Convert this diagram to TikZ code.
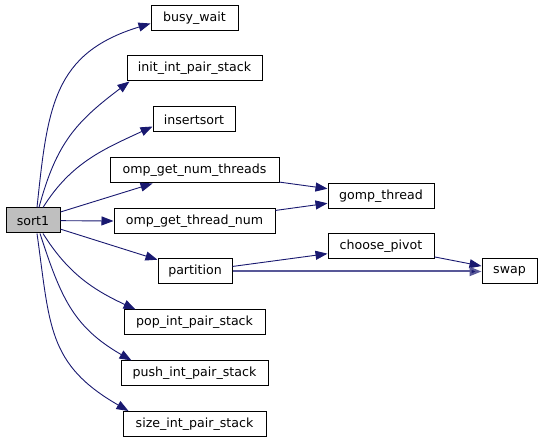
\documentclass[tikz,border=0pt]{standalone}
\usepackage{fontspec}
\setmainfont{DejaVu Sans}
\usetikzlibrary{arrows.meta}
\definecolor{cE}{RGB}{25,25,112}
\definecolor{cF}{RGB}{88,88,152}
\definecolor{cG}{RGB}{191,191,191}

\begin{document}
\begin{tikzpicture}[x=1pt, y=-1pt,
  fn/.style={draw=black, line width=1pt, minimum height=25pt, inner sep=0pt,
    font=\fontsize{12.6}{14}\selectfont},
  call/.style={draw=cE, line width=0.9pt, -{Triangle[length=12pt,width=9pt,fill=cE]}}]
  \useasboundingbox (0,0) rectangle (544,443);
  % caller
  \node[fn, fill=cG, minimum width=54pt] (sort1) at (33,220.5) {sort1};
  % callees
  \node[fn, minimum width=87pt]  (busywait)   at (194.5,18.5)  {busy\_wait};
  \node[fn, minimum width=135pt] (initstack)  at (194.5,68.5)  {init\_int\_pair\_stack};
  \node[fn, minimum width=82pt]  (insertsort) at (194,119.5)   {insertsort};
  \node[fn, minimum width=169pt] (numthreads) at (194.5,170.5) {omp\_get\_num\_threads};
  \node[fn, minimum width=161pt] (threadnum)  at (194.5,221.5) {omp\_get\_thread\_num};
  \node[fn, minimum width=74pt]  (partition)  at (195,271.5)   {partition};
  \node[fn, minimum width=141pt] (popstack)   at (194.5,322.5) {pop\_int\_pair\_stack};
  \node[fn, minimum width=147pt] (pushstack)  at (194.5,373.5) {push\_int\_pair\_stack};
  \node[fn, minimum width=143pt] (sizestack)  at (194.5,424)   {size\_int\_pair\_stack};
  \node[fn, minimum width=106pt] (gompthread) at (381,196)     {gomp\_thread};
  \node[fn, minimum width=106pt] (pivot)      at (381,246.5)   {choose\_pivot};
  \node[fn, minimum width=55pt]  (swap)       at (509.5,271.5) {swap};
  % calls from sort1
  \draw[call] ([xshift=4pt]sort1.north) to[out=84,in=197,looseness=1.2] ([yshift=-5pt]busywait.west);
  \draw[call] ([xshift=6pt]sort1.north) to[out=75,in=217,looseness=1.1] ([xshift=3pt]initstack.south west);
  \draw[call] ([xshift=10pt]sort1.north) to[out=58,in=205] ([yshift=-7pt]insertsort.west);
  \draw[call] (sort1) -- (numthreads);
  \draw[call] (sort1) -- (threadnum);
  \draw[call] (sort1) -- (partition);
  \draw[call] ([xshift=10pt]sort1.south) to[out=-58,in=155] ([xshift=12pt]popstack.north west);
  \draw[call] ([xshift=7pt]sort1.south) to[out=-72,in=150,looseness=1.1] ([xshift=11pt]pushstack.north west);
  \draw[call] ([xshift=4pt]sort1.south) to[out=-82,in=150,looseness=1.2] ([xshift=6pt]sizestack.north west);
  % calls further down
  \draw[call] (numthreads) -- (gompthread);
  \draw[call] (threadnum) -- (gompthread);
  \draw[call] (partition) -- (pivot);
  \draw[call] (pivot) -- (swap);
  \draw[call, draw=cF, line width=2pt] (partition) -- (swap);
\end{tikzpicture}
\end{document}
